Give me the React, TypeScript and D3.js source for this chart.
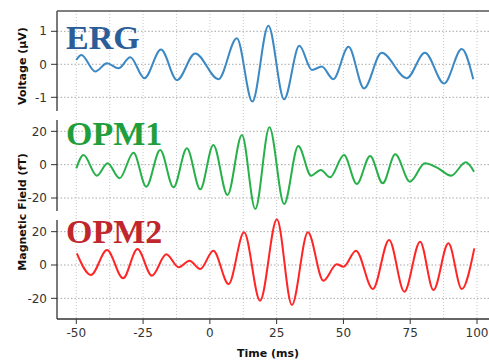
import React from 'react';
import * as d3 from 'd3';

// time (ms) / amplitude pairs
const ergTime = [-50, -48.1, -42.9, -38.5, -34.2, -29.8, -24.5, -18.3, -12.3, -5.5, 3.2, 10.1, 15.9, 21.9, 27.8, 33.5, 38.2, 41.9, 46.2, 51.9, 57.7, 64.3, 73.7, 80.5, 87.7, 94.3, 98.6];
const ergValue = [0.13, 0.28, -0.22, 0.03, -0.12, 0.21, -0.42, 0.45, -0.48, 0.33, -0.45, 0.79, -1.13, 1.17, -1.06, 0.56, -0.17, -0.07, -0.45, 0.53, -0.73, 0.35, -0.42, 0.35, -0.58, 0.46, -0.45];

const opm1Time = [-50, -47.3, -42.3, -38.3, -33.8, -28.6, -23.8, -18.6, -13.6, -8.6, -3.6, 1.3, 6.6, 12.0, 17.0, 22.3, 27.8, 33.1, 37.9, 41.5, 45.0, 50.2, 55.0, 60.0, 64.7, 69.4, 74.9, 80.5, 85.5, 90.3, 95.8, 98.9];
const opm1Value = [-2.2, 5.8, -6.6, 0.8, -8.2, 7.2, -13.2, 8.8, -13.6, 9.8, -14.8, 11.8, -18.2, 17.8, -26.6, 22.4, -23.6, 11.2, -6.6, -3.2, -7.6, 5.8, -11.6, 5.2, -11.2, 6.2, -10.2, 0.8, -2.2, -6.6, 1.4, -4.2];

const opm2Time = [-49.8, -44.5, -38.5, -32.5, -27.1, -21.7, -16.3, -11.7, -7.6, -3.6, 1.3, 7.0, 12.8, 18.8, 25.1, 30.7, 36.7, 42.5, 47.5, 50.0, 54.7, 61.0, 67.1, 72.8, 78.7, 83.7, 89.3, 94.3, 99.0];
const opm2Value = [7.0, -6.0, 9.0, -8.0, 9.6, -6.4, 6.4, -1.4, 2.6, -2.4, 8.6, -11.4, 19.6, -21.4, 27.4, -24.0, 19.6, -9.4, 0.4, -1.0, 8.6, -14.4, 15.0, -16.0, 14.0, -15.0, 13.0, -14.4, 10.0];

const xTicks = [-50, -25, 0, 25, 50, 75, 100];
const xGrid = [-50, -37.5, -25, -12.5, 0, 12.5, 25, 37.5, 50, 62.5, 75, 87.5, 100];
const ergTicks = [-1, 0, 1];
const fieldTicks = [-20, 0, 20];
const panelNames = ['ERG', 'OPM1', 'OPM2'];

const W = 489;
const H = 362;
const left = 57;
const right = 489;

const panels = [
  { name: panelNames[0], time: ergTime, value: ergValue, ticks: ergTicks, domain: [-1.415, 1.615], top: 11, bottom: 111, line: '#3a88c4', text: '#2b5d98' },
  { name: panelNames[1], time: opm1Time, value: opm1Value, ticks: fieldTicks, domain: [-27.8, 26.8], top: 120, bottom: 211, line: '#27b04a', text: '#1f9e3c' },
  { name: panelNames[2], time: opm2Time, value: opm2Value, ticks: fieldTicks, domain: [-32.4, 27.0], top: 220, bottom: 319, line: '#ff2525', text: '#c0272d' },
];

export default function App() {
  const x = d3.scaleLinear().domain([-50, 100]).range([76.3, 477]);
  const sans = 'DejaVu Sans, sans-serif';

  return (
    <svg width={W} height={H} style={{ position: 'absolute', left: 0, top: 0, background: '#fff' }}>
      {/* vertical grid */}
      {xGrid.map((t) => (
        <line key={'vg' + t} x1={x(t)} x2={x(t)} y1={11} y2={319} stroke="#c8c8c8" strokeWidth={1} strokeDasharray="1,2" />
      ))}

      {panels.map((p, i) => {
        const y = d3.scaleLinear().domain(p.domain).range([p.bottom, p.top]);
        const pts = p.time.map((t, k) => [t, p.value[k]] as [number, number]);
        const path = d3
          .line<[number, number]>()
          .x((d) => x(d[0]))
          .y((d) => y(d[1]))
          .curve(d3.curveMonotoneX)(pts);
        return (
          <g key={p.name}>
            {p.ticks.map((v) => (
              <g key={v}>
                <line x1={left} x2={right} y1={y(v)} y2={y(v)} stroke="#a8a8a8" strokeWidth={1} strokeDasharray="1.5,2" />
                <line x1={left - 6} x2={left} y1={y(v)} y2={y(v)} stroke="#333" strokeWidth={1} />
                <text x={left - 10} y={y(v)} dy="0.35em" textAnchor="end" fontFamily={sans} fontSize={12} fill="#333">
                  {v}
                </text>
              </g>
            ))}
            <line x1={left} x2={left} y1={p.top} y2={p.bottom} stroke="#333" strokeWidth={1.3} />
            <path d={path || ''} fill="none" stroke={p.line} strokeWidth={2} />
            <text x={66} y={[49, 145, 243][i]} fontFamily="Liberation Serif, serif" fontWeight="bold" fontSize={34} fill={p.text}>
              {p.name}
            </text>
          </g>
        );
      })}

      {/* top frame and bottom axis */}
      <line x1={left} x2={right} y1={11} y2={11} stroke="#555" strokeWidth={1.3} />
      <line x1={left} x2={right} y1={319} y2={319} stroke="#333" strokeWidth={1.3} />
      {xTicks.map((t) => (
        <g key={'xt' + t}>
          <line x1={x(t)} x2={x(t)} y1={319} y2={324} stroke="#333" strokeWidth={1} />
          <text x={x(t)} y={337} textAnchor="middle" fontFamily={sans} fontSize={12} fill="#333">
            {t}
          </text>
        </g>
      ))}

      <text x={268} y={357} textAnchor="middle" fontFamily={sans} fontWeight="bold" fontSize={11} fill="#111">
        Time (ms)
      </text>
      <text transform="translate(26,66) rotate(-90)" textAnchor="middle" fontFamily={sans} fontWeight="bold" fontSize={11} fill="#111">
        Voltage (µV)
      </text>
      <text transform="translate(26,212) rotate(-90)" textAnchor="middle" fontFamily={sans} fontWeight="bold" fontSize={11} fill="#111">
        Magnetic Field (fT)
      </text>
    </svg>
  );
}
